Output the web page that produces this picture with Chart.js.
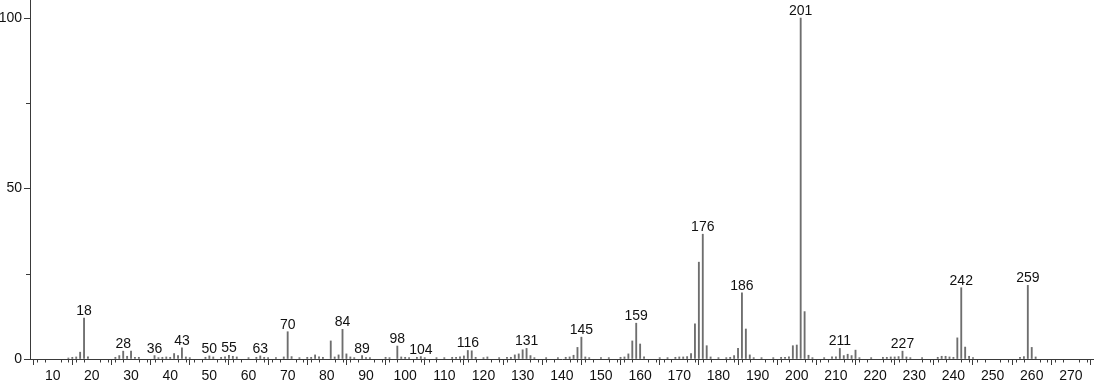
<!DOCTYPE html>
<html>
<head>
<meta charset="utf-8">
<script src="https://cdn.jsdelivr.net/npm/chart.js@4.4.1/dist/chart.umd.min.js"></script>
<style>
html,body{margin:0;padding:0;background:#fff;}
#wrap{width:1094px;height:384px;position:relative;}
</style>
</head>
<body>
<div id="wrap"><canvas id="c" width="1094" height="384"></canvas></div>
<script>
// m/z values and relative intensities (%)
const masses = [14,15,16,17,18,19,26,27,28,29,30,31,32,36,37,38,39,40,41,42,43,44,45,49,50,51,53,54,55,56,57,60,62,63,64,65,67,69,70,71,73,75,76,77,78,79,81,82,83,84,85,86,87,89,90,91,95,96,98,99,100,101,103,104,105,108,110,112,113,114,115,116,117,118,120,121,124,126,127,128,129,130,131,132,133,136,139,141,142,143,144,145,146,147,150,152,155,156,157,158,159,160,161,165,167,169,170,171,172,173,174,175,176,177,178,180,182,183,184,185,186,187,188,189,191,194,196,197,198,199,200,201,202,203,204,207,209,210,211,212,213,214,215,216,219,222,223,224,225,226,227,228,229,232,236,237,238,239,240,241,242,243,244,245,257,258,259,260,261];
const intensities = [0.3,0.5,0.6,2.0,12.0,0.6,0.5,1.0,2.3,0.8,2.3,0.5,0.5,1.0,0.4,0.5,0.6,0.5,1.6,1.0,3.3,0.6,0.4,0.5,0.9,0.6,0.5,0.6,1.1,0.8,0.6,0.4,0.5,0.9,0.5,0.4,0.4,0.6,8.0,0.7,0.4,0.5,0.5,1.2,0.6,0.5,5.3,0.6,1.2,8.7,1.5,0.6,0.4,1.0,0.4,0.4,0.5,0.4,3.8,0.6,0.5,0.4,0.5,0.7,0.4,0.4,0.4,0.5,0.5,0.6,0.9,2.5,2.4,0.5,0.4,0.6,0.4,0.5,0.5,1.2,1.5,2.7,3.1,1.0,0.4,0.4,0.4,0.5,0.6,1.1,3.4,6.4,0.6,0.4,0.4,0.4,0.5,0.6,1.5,5.3,10.5,4.4,0.6,0.4,0.4,0.5,0.6,0.6,0.7,1.6,10.3,28.4,36.6,3.9,0.6,0.4,0.4,0.5,1.0,3.1,19.4,8.8,1.2,0.4,0.4,0.4,0.5,0.5,0.6,3.9,4.1,100,13.9,1.1,0.4,0.4,0.6,0.6,3.1,1.0,1.4,1.0,2.6,0.4,0.4,0.5,0.5,0.6,0.6,0.7,2.3,0.6,0.4,0.4,0.5,0.8,0.8,0.6,0.5,6.2,20.9,3.5,0.8,0.4,0.5,0.7,21.6,3.4,0.6];
// peaks that carry an m/z label
const labeledPeaks = [18,28,36,43,50,55,63,70,84,89,98,104,116,131,145,159,176,186,201,211,227,242,259];
// axis ticks
const xMajorTicks = [10,20,30,40,50,60,70,80,90,100,110,120,130,140,150,160,170,180,190,200,210,220,230,240,250,260,270];
const xMinorStep = 2;
const yMajorTicks = [0,50,100];
const yMinorTicks = [25,75];

const FONT = '"Liberation Sans", Arial, Helvetica, sans-serif';
const AXIS = '#3a3a3a';

const points = masses.map((m,i)=>({x:m, y:intensities[i]}));

const peakLabels = {
  id:'peakLabels',
  afterDatasetsDraw(chart){
    const {ctx, scales:{x,y}} = chart;
    ctx.save();
    ctx.font = '14px ' + FONT;
    ctx.fillStyle = '#111';
    ctx.textAlign = 'center';
    ctx.textBaseline = 'alphabetic';
    labeledPeaks.forEach(m=>{
      const i = masses.indexOf(m);
      if(i<0) return;
      const px = x.getPixelForValue(m);
      const py = y.getPixelForValue(intensities[i]);
      ctx.fillText(String(m), px, py - 3);
    });
    ctx.restore();
  }
};

const minorTicks = {
  id:'minorTicks',
  afterDraw(chart){
    const {ctx, scales:{x,y}, chartArea} = chart;
    ctx.save();
    ctx.strokeStyle = AXIS;
    ctx.lineWidth = 1;
    ctx.beginPath();
    for(let v=Math.ceil(x.min/xMinorStep)*xMinorStep; v<=x.max; v+=xMinorStep){
      if(xMajorTicks.includes(v)) continue;
      const px = Math.round(x.getPixelForValue(v))+0.5;
      ctx.moveTo(px, chartArea.bottom);
      ctx.lineTo(px, chartArea.bottom+3.5);
    }
    yMinorTicks.forEach(v=>{
      const py = Math.round(y.getPixelForValue(v))+0.5;
      ctx.moveTo(chartArea.left, py);
      ctx.lineTo(chartArea.left-4, py);
    });
    ctx.stroke();
    ctx.restore();
  }
};

new Chart(document.getElementById('c'), {
  type:'bar',
  data:{datasets:[{
    data:points,
    backgroundColor:'#6e6e6e',
    borderWidth:0,
    barThickness:1.2,
    grouped:false
  }]},
  options:{
    responsive:false,
    animation:false,
    layout:{padding:{top:0,right:0,bottom:0,left:0}},
    plugins:{legend:{display:false}, tooltip:{enabled:false}},
    scales:{
      x:{
        type:'linear',
        min:4.2, max:275.9,
        offset:false,
        afterBuildTicks(s){ s.ticks = xMajorTicks.map(v=>({value:v})); },
        afterFit(s){ s.height = 25; s.paddingLeft = 0; s.paddingRight = 0; },
        grid:{drawOnChartArea:false, drawTicks:true, tickLength:6, color:AXIS, tickWidth:1},
        border:{display:true, color:AXIS, width:1},
        ticks:{font:{family:FONT,size:14}, color:'#111', padding:3, maxRotation:0, autoSkip:false}
      },
      y:{
        type:'linear',
        min:0, max:105.3,
        afterBuildTicks(s){ s.ticks = yMajorTicks.map(v=>({value:v})); },
        afterFit(s){ s.width = 30; s.paddingTop = 0; s.paddingBottom = 0; },
        grid:{drawOnChartArea:false, drawTicks:true, tickLength:6, color:AXIS},
        border:{display:true, color:AXIS, width:1},
        ticks:{font:{family:FONT,size:14}, color:'#111', padding:2}
      }
    }
  },
  plugins:[peakLabels, minorTicks]
});
</script>
</body>
</html>
